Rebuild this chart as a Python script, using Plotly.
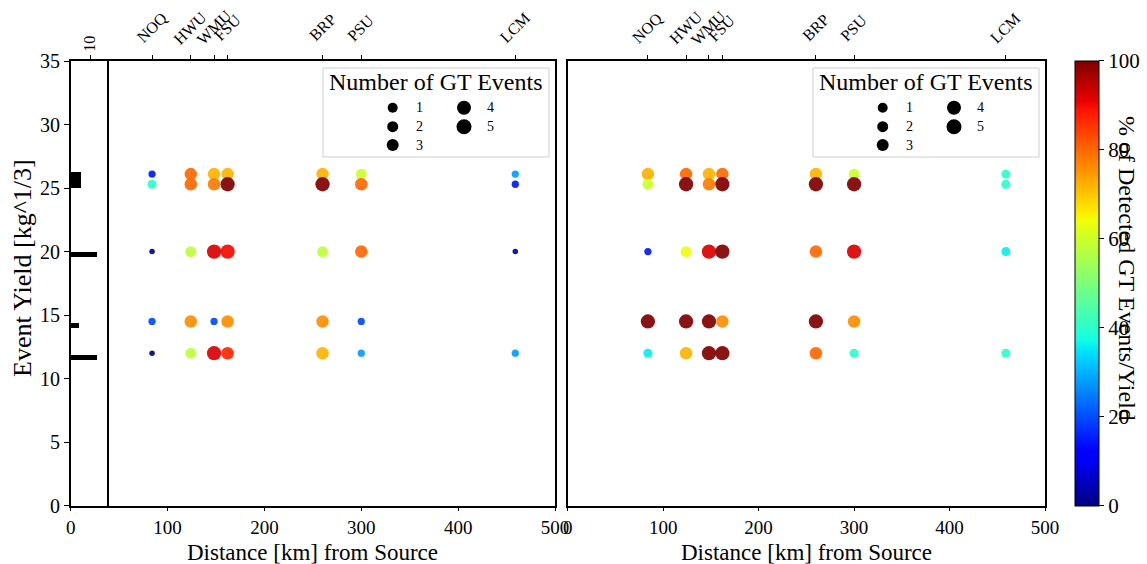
import plotly.graph_objects as go

W, H = 1147, 564

# ---------------- data ----------------
stations = ["NOQ", "HWU", "WMU", "FSU", "BRP", "PSU", "LCM"]
station_km = [84, 124, 148, 162, 260, 300, 459]
yields = [26.1, 25.3, 20.0, 14.5, 12.0]

# % of detected GT events per yield (rows = yields, cols = stations)
left_pct = [
    [15, 80, 72, 72, 72, 60, 28],
    [40, 80, 78, 100, 100, 80, 15],
    [2, 58, 92, 90, 58, 80, 5],
    [20, 76, 20, 76, 76, 20, None],
    [2, 58, 92, 87, 72, 28, 28],
]
left_count = [
    [1, 4, 4, 4, 4, 3, 1],
    [2, 4, 4, 5, 5, 4, 1],
    [0, 3, 5, 5, 3, 4, 0],
    [1, 4, 1, 4, 4, 1, None],
    [0, 3, 5, 4, 4, 1, 1],
]
right_pct = [
    [72, 80, 72, 80, 72, 60, 40],
    [60, 100, 78, 100, 100, 100, 40],
    [15, 64, 92, 100, 80, 92, 36],
    [100, 100, 100, 76, 100, 76, None],
    [36, 72, 100, 100, 80, 40, 40],
]
right_count = [
    [4, 4, 4, 4, 4, 3, 2],
    [3, 5, 4, 5, 5, 5, 2],
    [1, 3, 5, 5, 4, 5, 2],
    [5, 5, 5, 4, 5, 4, None],
    [2, 4, 5, 5, 4, 2, 2],
]

# histogram inset (yield distribution)
hist_y = [25.65, 19.8, 14.2, 11.7]
hist_thick = [1.3, 0.4, 0.4, 0.4]
hist_count = [5.3, 13.5, 4.3, 13.5]

legend_counts = [1, 2, 3, 4, 5]
cbar_ticks = [0, 20, 40, 60, 80, 100]

# ---------------- helpers ----------------
FONT = "Liberation Serif, Times New Roman, DejaVu Serif, serif"


def px(x):
    return x / W


def py(y):
    return 1 - y / H


def size_of(n):
    return 5.5 + 1.75 * n


# matplotlib "jet"
jet = [
    [0.0, "rgb(0,0,128)"], [0.11, "rgb(0,0,255)"], [0.125, "rgb(0,0,255)"],
    [0.34, "rgb(0,219,255)"], [0.35, "rgb(0,229,247)"], [0.375, "rgb(21,255,226)"],
    [0.5, "rgb(123,255,123)"], [0.64, "rgb(238,255,8)"], [0.65, "rgb(247,246,0)"],
    [0.66, "rgb(255,236,0)"], [0.89, "rgb(255,19,0)"], [0.91, "rgb(232,0,0)"],
    [1.0, "rgb(128,0,0)"],
]


def flatten(pct, cnt):
    xs, ys, cs, ss = [], [], [], []
    for i, yv in enumerate(yields):
        for j, km in enumerate(station_km):
            if pct[i][j] is None:
                continue
            xs.append(km)
            ys.append(yv)
            cs.append(pct[i][j])
            ss.append(size_of(cnt[i][j]))
    return xs, ys, cs, ss


# geometry (pixels)
L0, L1 = 70.7, 555.0
R0, R1 = 567.7, 1045.0
T, B = 61.0, 505.7
HIST_R = 107.0

fig = go.Figure()

lx, ly, lc, ls = flatten(left_pct, left_count)
rx, ry, rc, rs = flatten(right_pct, right_count)

fig.add_trace(go.Scatter(
    x=lx, y=ly, mode="markers", xaxis="x", yaxis="y", showlegend=False,
    marker=dict(color=lc, size=ls, colorscale=jet, cmin=0, cmax=100,
                opacity=0.92, line=dict(width=0), showscale=False),
))
fig.add_trace(go.Scatter(
    x=rx, y=ry, mode="markers", xaxis="x2", yaxis="y2", showlegend=False,
    marker=dict(color=rc, size=rs, colorscale=jet, cmin=0, cmax=100,
                opacity=0.92, line=dict(width=0), showscale=True,
                colorbar=dict(
                    x=px(1075), xanchor="left", xpad=0,
                    y=py((T + B) / 2), yanchor="middle", ypad=0,
                    len=(B - T) / H, lenmode="fraction", thickness=24,
                    outlinewidth=1, outlinecolor="black",
                    tickvals=cbar_ticks, ticks="outside", ticklen=5,
                    tickcolor="black",
                    tickfont=dict(family=FONT, size=21, color="black"),
                )),
))
# station top-axis anchors (invisible)
fig.add_trace(go.Scatter(x=station_km, y=[None] * len(station_km),
                         xaxis="x3", yaxis="y", showlegend=False, hoverinfo="skip"))
fig.add_trace(go.Scatter(x=station_km, y=[None] * len(station_km),
                         xaxis="x4", yaxis="y2", showlegend=False, hoverinfo="skip"))
# histogram inset
fig.add_trace(go.Bar(
    y=hist_y, x=hist_count, width=hist_thick, orientation="h",
    marker=dict(color="black", line=dict(width=0)),
    xaxis="x5", yaxis="y3", showlegend=False,
))

tickfont = dict(family=FONT, size=19, color="black")
stfont = dict(family=FONT, size=16, color="black")
ydom = [py(B), py(T)]
common_line = dict(showline=True, linecolor="black", linewidth=1.5,
                   showgrid=False, zeroline=False, automargin=False)

fig.update_layout(
    width=W, height=H, margin=dict(l=0, r=0, t=0, b=0, autoexpand=False),
    paper_bgcolor="white", plot_bgcolor="rgba(0,0,0,0)",
    font=dict(family=FONT, color="black"),
    xaxis=dict(domain=[px(L0), px(L1)], range=[0, 500], anchor="y",
               tickvals=[0, 100, 200, 300, 400, 500], ticks="outside", ticklen=4,
               tickcolor="black", tickfont=tickfont, mirror=True, **common_line),
    yaxis=dict(domain=ydom, range=[0, 35], anchor="x",
               tickvals=[0, 5, 10, 15, 20, 25, 30, 35], ticks="outside", ticklen=5,
               tickcolor="black", tickfont=dict(family=FONT, size=20, color="black"),
               mirror=True, **common_line),
    xaxis2=dict(domain=[px(R0), px(R1)], range=[0, 500], anchor="y2",
                tickvals=[0, 100, 200, 300, 400, 500], ticks="outside", ticklen=4,
                tickcolor="black", tickfont=tickfont, mirror=True, **common_line),
    yaxis2=dict(domain=ydom, range=[0, 35], anchor="x2",
                showticklabels=False, ticks="", mirror=True, **common_line),
    xaxis3=dict(overlaying="x", side="top", range=[0, 500], anchor="y",
                tickvals=station_km, showticklabels=False,
                ticks="outside", ticklen=5, tickcolor="black",
                showgrid=False, zeroline=False, showline=False, automargin=False),
    xaxis4=dict(overlaying="x2", side="top", range=[0, 500], anchor="y2",
                tickvals=station_km, showticklabels=False,
                ticks="outside", ticklen=5, tickcolor="black",
                showgrid=False, zeroline=False, showline=False, automargin=False),
    xaxis5=dict(domain=[px(L0), px(HIST_R)], range=[0, 18.8], anchor="y3",
                side="top", tickvals=[10], ticktext=["10"], tickangle=-90,
                ticks="outside", ticklen=5, tickcolor="black", tickfont=stfont,
                showgrid=False, zeroline=False, showline=False, automargin=False),
    yaxis3=dict(domain=ydom, range=[0, 35], anchor="x5",
                showticklabels=False, ticks="", mirror=True, **common_line),
    bargap=0,
)

annotations = []
shapes = []
# rotated station names centred over their ticks
for xr in ["x", "x2"]:
    for name, km in zip(stations, station_km):
        annotations.append(dict(x=km, xref=xr, y=py(28), yref="paper",
                                text=name, showarrow=False, textangle=-45,
                                font=stfont, xanchor="center", yanchor="middle"))
# axis titles
for cx in [(L0 + L1) / 2, (R0 + R1) / 2]:
    annotations.append(dict(x=px(cx), y=py(552), xref="paper", yref="paper",
                            text="Distance [km] from Source", showarrow=False,
                            font=dict(family=FONT, size=23, color="black"),
                            xanchor="center", yanchor="middle"))
annotations.append(dict(x=px(22), y=py(268), xref="paper", yref="paper",
                        text="Event Yield [kg^1/3]", showarrow=False, textangle=-90,
                        font=dict(family=FONT, size=26, color="black"),
                        xanchor="center", yanchor="middle"))
annotations.append(dict(x=px(1127), y=py(268), xref="paper", yref="paper",
                        text="% of Detected GT Events/Yield", showarrow=False,
                        textangle=90,
                        font=dict(family=FONT, size=24, color="black"),
                        xanchor="center", yanchor="middle"))

# size legends
leg_sizes = [10, 11, 12, 14, 15]
leg_pos = [(0, 0), (0, 1), (0, 2), (1, 0), (1, 1)]
for off in [0, 490]:
    shapes.append(dict(type="rect", xref="paper", yref="paper",
                       x0=px(323 + off), x1=px(549 + off), y0=py(157), y1=py(68),
                       line=dict(color="#cfcfcf", width=1), fillcolor="white",
                       layer="above"))
    annotations.append(dict(x=px(436 + off), y=py(82), xref="paper", yref="paper",
                            text="Number of GT Events", showarrow=False,
                            font=dict(family=FONT, size=24, color="black"),
                            xanchor="center", yanchor="middle"))
    for n, sz, (col, row) in zip(legend_counts, leg_sizes, leg_pos):
        mx = (392.7 if col == 0 else 464) + off
        my = [107.7, 126.7, 145][row]
        r = sz / 2
        shapes.append(dict(type="circle", xref="paper", yref="paper",
                           xsizemode="pixel", ysizemode="pixel",
                           xanchor=px(mx), yanchor=py(my),
                           x0=-r, x1=r, y0=-r, y1=r,
                           fillcolor="black", line=dict(width=0), layer="above"))
        annotations.append(dict(x=px(mx + 27 if col == 0 else mx + 26), y=py(my),
                                xref="paper", yref="paper", text=str(n),
                                showarrow=False,
                                font=dict(family=FONT, size=14, color="black"),
                                xanchor="center", yanchor="middle"))

fig.update_layout(annotations=annotations, shapes=shapes)
fig.write_html("out.html")
